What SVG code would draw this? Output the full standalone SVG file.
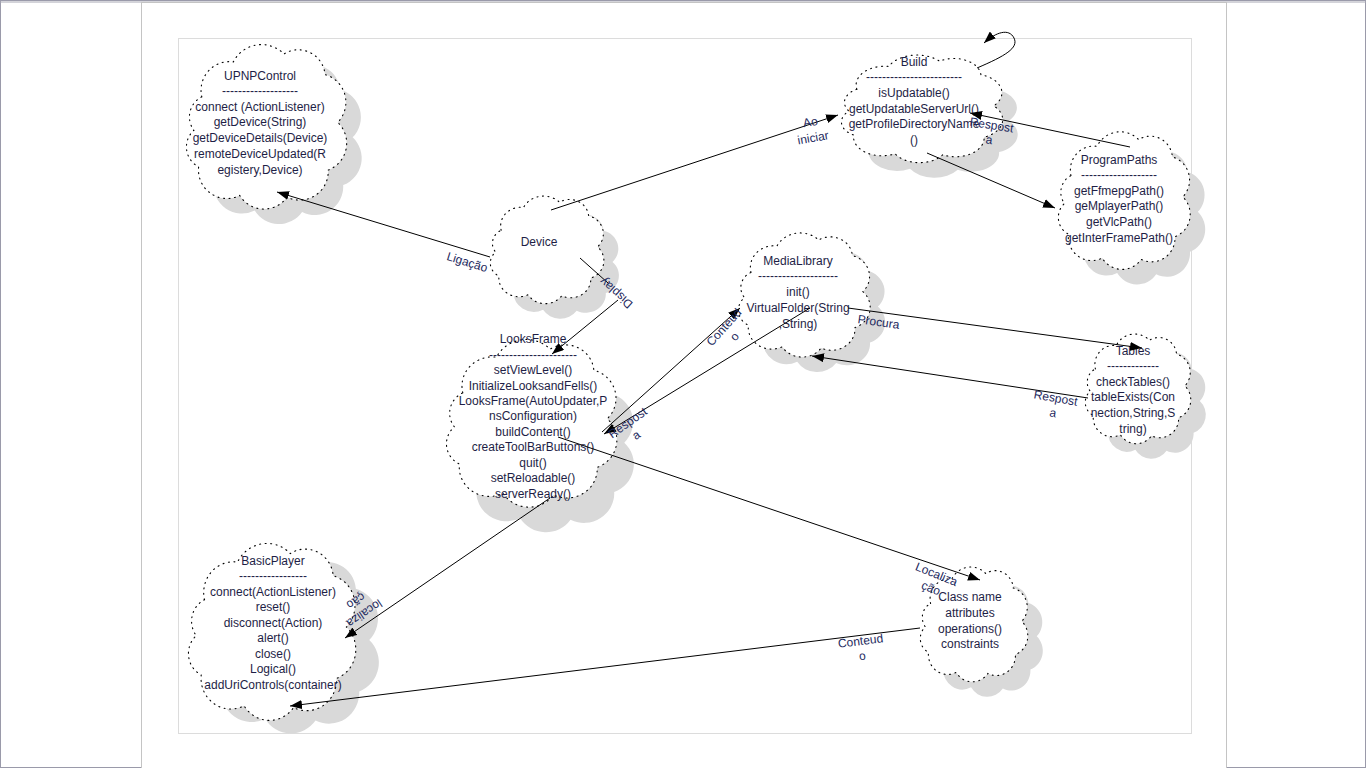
<svg xmlns="http://www.w3.org/2000/svg" xmlns:xlink="http://www.w3.org/1999/xlink" width="1366" height="768" viewBox="0 0 1366 768">
<style>
.cl{fill:#fff;stroke:#000;stroke-width:1.1;stroke-dasharray:1 4.5;stroke-linecap:round}
.sh{fill:#d9d9d9;stroke:none}
.t{font-family:"Liberation Sans",Arial,sans-serif;font-size:12px;fill:#1e1e46;text-anchor:middle}
.lb{font-family:"Liberation Sans",Arial,sans-serif;font-size:12px;fill:#1e2a5e;text-anchor:middle}
.ln{fill:none;stroke:#000;stroke-width:1}
</style>
<defs>
<path id="cloud" vector-effect="non-scaling-stroke" d="M10,32 A18,18 0 0 1 30,10 A20,20 0 0 1 62,5 A17,17 0 0 1 88,18 A18,18 0 0 1 96,48 A18,18 0 0 1 90,78 A18,18 0 0 1 64,95 A18,18 0 0 1 34,94 A18,18 0 0 1 8,76 A14,14 0 0 1 5,53 A14,14 0 0 1 10,32 Z"/>
<marker id="arr" viewBox="0 0 12 9" refX="12" refY="4.5" markerWidth="12" markerHeight="9" markerUnits="userSpaceOnUse" orient="auto">
<path d="M0,0 L12,4.5 L0,9 z" fill="#000"/>
</marker>
</defs>
<rect x="0" y="0" width="1366" height="768" fill="#fff"/>
<rect x="0.5" y="0.5" width="1365" height="767" fill="none" stroke="#9a9aaa"/>
<line x1="0" y1="2" x2="1366" y2="2" stroke="#a8a8b4"/>
<rect x="141.5" y="2.5" width="1085" height="770" fill="#fff" stroke="#c4c4c4"/>
<rect x="178.5" y="38.5" width="1013" height="695" fill="none" stroke="#dcdcdc"/>

<g id="UPNPControl">
<use xlink:href="#cloud" class="sh" transform="translate(201,61) scale(1.58,1.59)"/>
<use xlink:href="#cloud" class="cl" transform="translate(186,46) scale(1.58,1.59)"/>
<text class="t" x="260" y="80">UPNPControl</text>
<text class="t" x="260" y="95">-------------------</text>
<text class="t" x="260" y="111">connect (ActionListener)</text>
<text class="t" x="260" y="126">getDevice(String)</text>
<text class="t" x="260" y="142">getDeviceDetails(Device)</text>
<text class="t" x="260" y="158">remoteDeviceUpdated(R</text>
<text class="t" x="260" y="174">egistery,Device)</text>
</g>

<g id="Build">
<use xlink:href="#cloud" class="sh" transform="translate(856,71) scale(1.59,1.04)"/>
<use xlink:href="#cloud" class="cl" transform="translate(841,56) scale(1.59,1.04)"/>
<text class="t" x="914" y="66">Build</text>
<text class="t" x="914" y="81">------------------------</text>
<text class="t" x="914" y="97">isUpdatable()</text>
<text class="t" x="914" y="113">getUpdatableServerUrl()</text>
<text class="t" x="914" y="128">getProfileDirectoryName</text>
<text class="t" x="914" y="144">()</text>
</g>

<g id="ProgramPaths">
<use xlink:href="#cloud" class="sh" transform="translate(1073,148) scale(1.3,1.33)"/>
<use xlink:href="#cloud" class="cl" transform="translate(1058,133) scale(1.3,1.33)"/>
<text class="t" x="1119" y="164">ProgramPaths</text>
<text class="t" x="1119" y="179">-------------------</text>
<text class="t" x="1119" y="195">getFfmepgPath()</text>
<text class="t" x="1119" y="210">geMplayerPath()</text>
<text class="t" x="1119" y="226">getVlcPath()</text>
<text class="t" x="1119" y="242">getInterFramePath()</text>
</g>

<g id="Device">
<use xlink:href="#cloud" class="sh" transform="translate(505,212) scale(1.12,1.04)"/>
<use xlink:href="#cloud" class="cl" transform="translate(490,197) scale(1.12,1.04)"/>
<text class="t" x="539" y="246">Device</text>
</g>

<g id="MediaLibrary">
<use xlink:href="#cloud" class="sh" transform="translate(753,249) scale(1.3,1.2)"/>
<use xlink:href="#cloud" class="cl" transform="translate(738,234) scale(1.3,1.2)"/>
<text class="t" x="798" y="265">MediaLibrary</text>
<text class="t" x="798" y="280">--------------------</text>
<text class="t" x="798" y="296">init()</text>
<text class="t" x="798" y="312">VirtualFolder(String</text>
<text class="t" x="798" y="328">,String)</text>
</g>

<g id="LooksFrame">
<use xlink:href="#cloud" class="sh" transform="translate(463,364) scale(1.68,1.64)"/>
<use xlink:href="#cloud" class="cl" transform="translate(446,341) scale(1.68,1.62)"/>
<text class="t" x="533" y="343">LooksFrame</text>
<text class="t" x="533" y="359">----------------------</text>
<text class="t" x="533" y="374">setViewLevel()</text>
<text class="t" x="533" y="390">InitializeLooksandFells()</text>
<text class="t" x="533" y="405">LooksFrame(AutoUpdater,P</text>
<text class="t" x="533" y="420">nsConfiguration)</text>
<text class="t" x="533" y="436">buildContent()</text>
<text class="t" x="533" y="451">createToolBarButtons()</text>
<text class="t" x="533" y="467">quit()</text>
<text class="t" x="533" y="482">setReloadable()</text>
<text class="t" x="533" y="498">serverReady()</text>
</g>

<g id="Tables">
<use xlink:href="#cloud" class="sh" transform="translate(1100,350) scale(1.04,1.06)"/>
<use xlink:href="#cloud" class="cl" transform="translate(1085,335) scale(1.04,1.06)"/>
<text class="t" x="1133" y="355">Tables</text>
<text class="t" x="1133" y="370">-------------</text>
<text class="t" x="1133" y="386">checkTables()</text>
<text class="t" x="1133" y="401">tableExists(Con</text>
<text class="t" x="1133" y="417">nection,String,S</text>
<text class="t" x="1133" y="433">tring)</text>
</g>

<g id="BasicPlayer">
<use xlink:href="#cloud" class="sh" transform="translate(208,558) scale(1.68,1.71)"/>
<use xlink:href="#cloud" class="cl" transform="translate(188,545) scale(1.65,1.71)"/>
<text class="t" x="273" y="565">BasicPlayer</text>
<text class="t" x="273" y="580">-----------------</text>
<text class="t" x="273" y="596">connect(ActionListener)</text>
<text class="t" x="273" y="611">reset()</text>
<text class="t" x="273" y="627">disconnect(Action)</text>
<text class="t" x="273" y="642">alert()</text>
<text class="t" x="273" y="658">close()</text>
<text class="t" x="273" y="673">Logical()</text>
<text class="t" x="273" y="689">addUriControls(container)</text>
</g>

<g id="ClassName">
<use xlink:href="#cloud" class="sh" transform="translate(935,583) scale(1.06,1.11)"/>
<use xlink:href="#cloud" class="cl" transform="translate(920,568) scale(1.06,1.11)"/>
<text class="t" x="970" y="601">Class name</text>
<text class="t" x="970" y="617">attributes</text>
<text class="t" x="970" y="633">operations()</text>
<text class="t" x="970" y="648">constraints</text>
</g>

<g id="connectors">
<path class="ln" d="M490,257 L277,192" marker-end="url(#arr)"/>
<path class="ln" d="M551,210 L838,115" marker-end="url(#arr)"/>
<path class="ln" d="M977,68 C1005,56 1019,48 1014,38 C1009,28 996,32 984,43" marker-end="url(#arr)"/>
<path class="ln" d="M1130,147 L970,113" marker-end="url(#arr)"/>
<path class="ln" d="M927,153 L1055,208" marker-end="url(#arr)"/>
<path class="ln" d="M580,258 L608,283 M618,300 L552,354" marker-end="url(#arr)"/>
<path class="ln" d="M602,432 L740,308" marker-end="url(#arr)"/>
<path class="ln" d="M810,308 L604,434" marker-end="url(#arr)"/>
<path class="ln" d="M848,308 L1142,348" marker-end="url(#arr)"/>
<path class="ln" d="M1088,398 L812,356" marker-end="url(#arr)"/>
<path class="ln" d="M558,437 L980,580" marker-end="url(#arr)"/>
<path class="ln" d="M550,498 L345,638" marker-end="url(#arr)"/>
<path class="ln" d="M920,628 L290,706" marker-end="url(#arr)"/>
</g>

<g id="labels">
<text class="lb" transform="translate(466,266) rotate(17)">Ligação</text>
<text class="lb" transform="translate(811,126) rotate(-10)"><tspan x="0" y="0">Ao</tspan><tspan x="0" y="16">iniciar</tspan></text>
<text class="lb" transform="translate(991,129) rotate(9)"><tspan x="0" y="0">Respost</tspan><tspan x="0" y="15">a</tspan></text>
<text class="lb" transform="translate(619,290) rotate(222)">Display</text>
<text class="lb" transform="translate(727,330) rotate(-48)"><tspan x="0" y="0">Conteud</tspan><tspan x="0" y="14">o</tspan></text>
<text class="lb" transform="translate(630,426) rotate(-35)"><tspan x="0" y="0">Respost</tspan><tspan x="0" y="15">a</tspan></text>
<text class="lb" transform="translate(878,326) rotate(8)">Procura</text>
<text class="lb" transform="translate(1055,402) rotate(10)"><tspan x="0" y="0">Respost</tspan><tspan x="0" y="15">a</tspan></text>
<text class="lb" transform="translate(935,578) rotate(22)"><tspan x="0" y="0">Localiza</tspan><tspan x="0" y="15">ção</tspan></text>
<text class="lb" transform="translate(861,645) rotate(-7)"><tspan x="0" y="0">Conteud</tspan><tspan x="0" y="15">o</tspan></text>
<text class="lb" transform="translate(362,610) rotate(146)"><tspan x="0" y="0">localiza</tspan><tspan x="0" y="15">ção</tspan></text>
</g>
</svg>
